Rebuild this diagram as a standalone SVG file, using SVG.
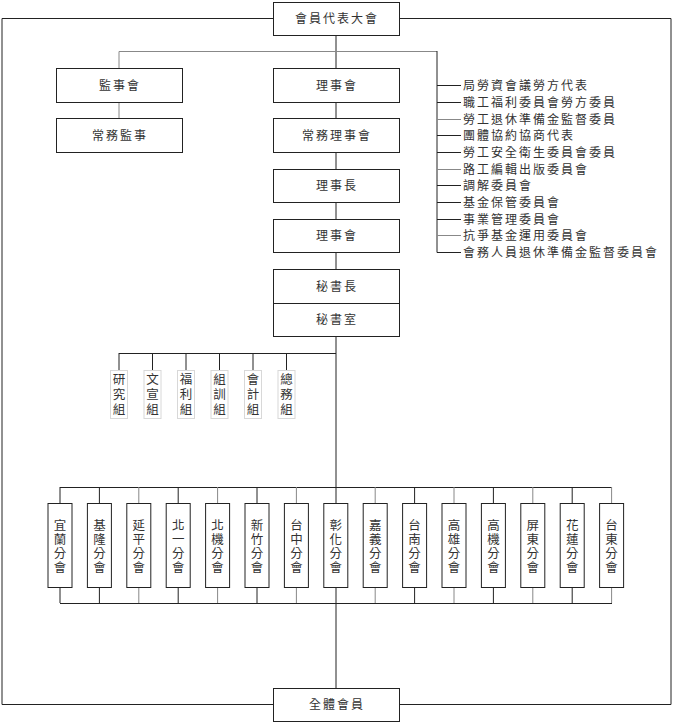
<svg xmlns="http://www.w3.org/2000/svg" width="698" height="725" viewBox="0 0 698 725">
<style>
.bx{fill:#fff;stroke:#222;stroke-width:1}
.sm{fill:#fff;stroke:#d8d8d8;stroke-width:1}
.t{font-family:"Noto Sans CJK TC","Noto Sans CJK SC",sans-serif;font-size:12px;fill:#333;letter-spacing:2px}
.c{text-anchor:middle}
.v{font-family:"Noto Sans CJK TC","Noto Sans CJK SC",sans-serif;font-size:12.5px;fill:#333;text-anchor:middle;writing-mode:vertical-rl;text-orientation:upright;letter-spacing:1.5px}
.vs{letter-spacing:2.5px}
.ln{stroke:#222;stroke-width:1;fill:none}
.lg{stroke:#888;stroke-width:1;fill:none}
</style>
<rect width="698" height="725" fill="#fff"/>
<g id="connectors">
<polyline class="ln" points="273.5,18.5 2,18.5 2,704.5 273.5,704.5"/>
<polyline class="ln" points="399.5,18.5 671,18.5 671,704.5 399.5,704.5"/>
<line class="ln" x1="336" y1="35" x2="336" y2="688"/>
<polyline class="lg" points="119,68 119,51.5 437,51.5"/>
<line class="lg" x1="119" y1="102" x2="119" y2="118"/>
<line class="ln" x1="437" y1="51" x2="437" y2="252.5"/>
<g class="ln">
<line x1="437" y1="85.5" x2="461" y2="85.5"/>
<line x1="437" y1="102.5" x2="461" y2="102.5"/>
<line x1="437" y1="119.5" x2="461" y2="119.5" stroke="#888"/>
<line x1="437" y1="135.5" x2="461" y2="135.5"/>
<line x1="437" y1="152.5" x2="461" y2="152.5"/>
<line x1="437" y1="169.5" x2="461" y2="169.5" stroke="#888"/>
<line x1="437" y1="185.5" x2="461" y2="185.5"/>
<line x1="437" y1="202.5" x2="461" y2="202.5"/>
<line x1="437" y1="219.5" x2="461" y2="219.5"/>
<line x1="437" y1="235.5" x2="461" y2="235.5" stroke="#888"/>
<line x1="437" y1="252.5" x2="461" y2="252.5"/>
</g>
<line class="ln" x1="119" y1="353.5" x2="336" y2="353.5"/>
<g class="ln">
<line x1="119" y1="353" x2="119" y2="370"/>
<line x1="152.5" y1="353" x2="152.5" y2="370"/>
<line x1="186" y1="353" x2="186" y2="370"/>
<line x1="219.5" y1="353" x2="219.5" y2="370"/>
<line x1="253" y1="353" x2="253" y2="370"/>
<line x1="286.5" y1="353" x2="286.5" y2="370"/>
</g>
<line class="ln" x1="60" y1="487.5" x2="612" y2="487.5"/>
<line class="ln" x1="60" y1="603.5" x2="612" y2="603.5"/>
<g class="ln">
<line x1="60" y1="487" x2="60" y2="603"/>
<line x1="99.4" y1="487" x2="99.4" y2="603"/>
<line x1="138.8" y1="487" x2="138.8" y2="603" stroke="#888"/>
<line x1="178.2" y1="487" x2="178.2" y2="603"/>
<line x1="217.6" y1="487" x2="217.6" y2="603" stroke="#888"/>
<line x1="257" y1="487" x2="257" y2="603"/>
<line x1="296.4" y1="487" x2="296.4" y2="603" stroke="#888"/>
<line x1="375.2" y1="487" x2="375.2" y2="603" stroke="#888"/>
<line x1="414.6" y1="487" x2="414.6" y2="603"/>
<line x1="454" y1="487" x2="454" y2="603" stroke="#888"/>
<line x1="493.4" y1="487" x2="493.4" y2="603"/>
<line x1="532.8" y1="487" x2="532.8" y2="603" stroke="#888"/>
<line x1="572.2" y1="487" x2="572.2" y2="603"/>
<line x1="611.6" y1="487" x2="611.6" y2="603" stroke="#888"/>
</g>
</g>
<g id="n-congress"><rect class="bx" x="273.5" y="2.5" width="126" height="33"/><text class="t c" x="337" y="23">會員代表大會</text></g>
<g id="n-supervisors"><rect class="bx" x="56.5" y="68.5" width="126" height="34"/><text class="t c" x="120" y="89.5">監事會</text></g>
<g id="n-standing-supervisor"><rect class="bx" x="56.5" y="118.5" width="126" height="34"/><text class="t c" x="120" y="139.5">常務監事</text></g>
<g id="n-board"><rect class="bx" x="273.5" y="68.5" width="126" height="34"/><text class="t c" x="337" y="89.5">理事會</text></g>
<g id="n-standing-board"><rect class="bx" x="273.5" y="118.5" width="126" height="34"/><text class="t c" x="337" y="139.5">常務理事會</text></g>
<g id="n-chairman"><rect class="bx" x="273.5" y="169.5" width="126" height="33"/><text class="t c" x="337" y="190">理事長</text></g>
<g id="n-board2"><rect class="bx" x="273.5" y="219.5" width="126" height="33"/><text class="t c" x="337" y="240">理事會</text></g>
<g id="n-secgen"><rect class="bx" x="273.5" y="269.5" width="126" height="34"/><text class="t c" x="337" y="290.5">秘書長</text></g>
<g id="n-secoffice"><rect class="bx" x="273.5" y="303.5" width="126" height="33"/><text class="t c" x="337" y="324">秘書室</text></g>
<g id="n-committees">
<text class="t" x="463" y="90">局勞資會議勞方代表</text>
<text class="t" x="463" y="107">職工福利委員會勞方委員</text>
<text class="t" x="463" y="124">勞工退休準備金監督委員</text>
<text class="t" x="463" y="140">團體協約協商代表</text>
<text class="t" x="463" y="157">勞工安全衛生委員會委員</text>
<text class="t" x="463" y="174">路工編輯出版委員會</text>
<text class="t" x="463" y="190">調解委員會</text>
<text class="t" x="463" y="207">基金保管委員會</text>
<text class="t" x="463" y="224">事業管理委員會</text>
<text class="t" x="463" y="240">抗爭基金運用委員會</text>
<text class="t" x="463" y="257">會務人員退休準備金監督委員會</text>
</g>
<g id="n-research"><rect class="sm" x="110.5" y="370.5" width="17" height="48"/><text class="v vs" x="119" y="395.5">研究組</text></g>
<g id="n-publicity"><rect class="sm" x="144" y="370.5" width="17" height="48"/><text class="v vs" x="152.5" y="395.5">文宣組</text></g>
<g id="n-welfare"><rect class="sm" x="177.5" y="370.5" width="17" height="48"/><text class="v vs" x="186" y="395.5">福利組</text></g>
<g id="n-organize"><rect class="sm" x="211" y="370.5" width="17" height="48"/><text class="v vs" x="219.5" y="395.5">組訓組</text></g>
<g id="n-accounting"><rect class="sm" x="244.5" y="370.5" width="17" height="48"/><text class="v vs" x="253" y="395.5">會計組</text></g>
<g id="n-general"><rect class="sm" x="278" y="370.5" width="17" height="48"/><text class="v vs" x="286.5" y="395.5">總務組</text></g>
<g id="n-yilan"><rect class="bx" x="48" y="503.5" width="24" height="84"/><text class="v" x="60" y="547">宜蘭分會</text></g>
<g id="n-keelung"><rect class="bx" x="87.4" y="503.5" width="24" height="84"/><text class="v" x="99.4" y="547">基隆分會</text></g>
<g id="n-yanping"><rect class="bx" x="126.8" y="503.5" width="24" height="84"/><text class="v" x="138.8" y="547">延平分會</text></g>
<g id="n-beiyi"><rect class="bx" x="166.2" y="503.5" width="24" height="84"/><text class="v" x="178.2" y="547">北一分會</text></g>
<g id="n-beiji"><rect class="bx" x="205.6" y="503.5" width="24" height="84"/><text class="v" x="217.6" y="547">北機分會</text></g>
<g id="n-hsinchu"><rect class="bx" x="245" y="503.5" width="24" height="84"/><text class="v" x="257" y="547">新竹分會</text></g>
<g id="n-taichung"><rect class="bx" x="284.4" y="503.5" width="24" height="84"/><text class="v" x="296.4" y="547">台中分會</text></g>
<g id="n-changhua"><rect class="bx" x="323.8" y="503.5" width="24" height="84"/><text class="v" x="335.8" y="547">彰化分會</text></g>
<g id="n-chiayi"><rect class="bx" x="363.2" y="503.5" width="24" height="84"/><text class="v" x="375.2" y="547">嘉義分會</text></g>
<g id="n-tainan"><rect class="bx" x="402.6" y="503.5" width="24" height="84"/><text class="v" x="414.6" y="547">台南分會</text></g>
<g id="n-kaohsiung"><rect class="bx" x="442" y="503.5" width="24" height="84"/><text class="v" x="454" y="547">高雄分會</text></g>
<g id="n-gaoji"><rect class="bx" x="481.4" y="503.5" width="24" height="84"/><text class="v" x="493.4" y="547">高機分會</text></g>
<g id="n-pingtung"><rect class="bx" x="520.8" y="503.5" width="24" height="84"/><text class="v" x="532.8" y="547">屏東分會</text></g>
<g id="n-hualien"><rect class="bx" x="560.2" y="503.5" width="24" height="84"/><text class="v" x="572.2" y="547">花蓮分會</text></g>
<g id="n-taitung"><rect class="bx" x="599.6" y="503.5" width="24" height="84"/><text class="v" x="611.6" y="547">台東分會</text></g>
<g id="n-members"><rect class="bx" x="273.5" y="688.5" width="126" height="33"/><text class="t c" x="337" y="709">全體會員</text></g>
</svg>
